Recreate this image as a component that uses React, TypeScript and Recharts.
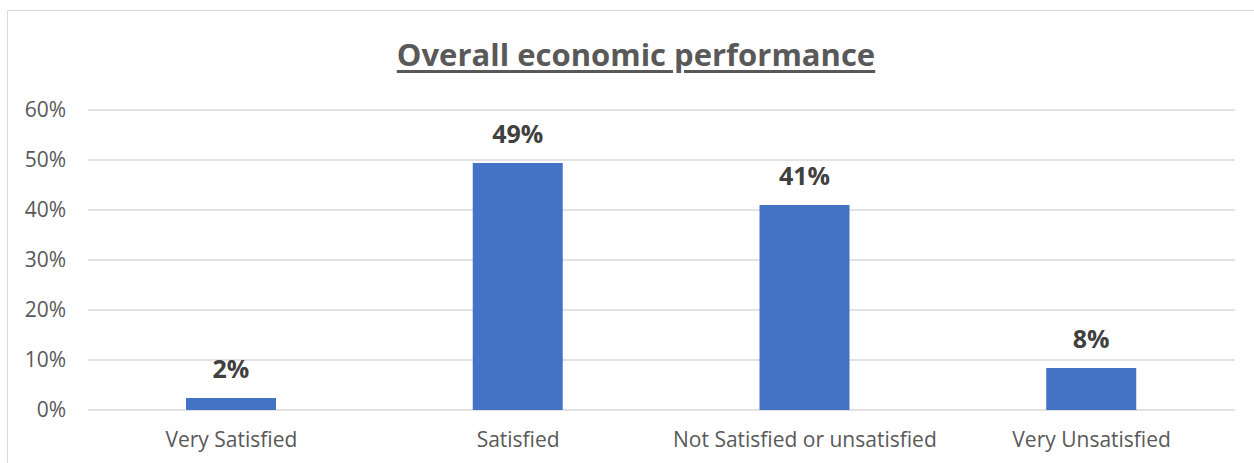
import { Bar, BarChart, CartesianGrid, LabelList, XAxis, YAxis } from "recharts";

const categories = [
  "Very Satisfied",
  "Satisfied",
  "Not Satisfied or unsatisfied",
  "Very Unsatisfied",
];
const shares = [2.4, 49.4, 41, 8.4];
const yTicks = [0, 10, 20, 30, 40, 50, 60];

const data = categories.map((name, i) => ({ name, value: shares[i] }));

const FONT = "'Open Sans', 'Liberation Sans', sans-serif";

export default function App() {
  return (
    <div
      style={{
        position: "fixed",
        left: 0,
        top: 0,
        width: 1254,
        height: 463,
        background: "#fff",
        overflow: "hidden",
        fontFamily: FONT,
      }}
    >
      <div
        style={{
          position: "absolute",
          left: 7,
          top: 10,
          width: 1300,
          height: 500,
          border: "1.5px solid #d9d9d9",
        }}
      />
      <div
        style={{
          position: "absolute",
          left: 0,
          top: 34,
          width: 1272,
          textAlign: "center",
          fontSize: 31,
          fontWeight: 700,
          color: "#595959",
          textDecoration: "underline",
          textUnderlineOffset: 4,
          lineHeight: "40px",
        }}
      >
        Overall economic performance
      </div>
      <div style={{ position: "absolute", left: 0, top: 0 }}>
        <BarChart
          width={1254}
          height={463}
          data={data}
          margin={{ top: 110, right: 19, left: 8, bottom: 0 }}
        >
          <CartesianGrid vertical={false} stroke="#d9d9d9" strokeWidth={1.5} />
          <XAxis
            dataKey="name"
            axisLine={false}
            tickLine={false}
            tickSize={0}
            tickMargin={22}
            height={53}
            interval={0}
            tick={{ fontSize: 21, fill: "#595959", fontFamily: FONT }}
          />
          <YAxis
            domain={[0, 60]}
            ticks={yTicks}
            width={80}
            axisLine={false}
            tickLine={false}
            tickSize={0}
            tickMargin={22}
            tickFormatter={(v: number) => `${v}%`}
            tick={{ fontSize: 21, fill: "#595959", fontFamily: FONT }}
          />
          <Bar dataKey="value" fill="#4472c4" barSize={90} isAnimationActive={false}>
            <LabelList
              dataKey="value"
              position="top"
              offset={20}
              formatter={(v: number) => `${Math.round(v)}%`}
              style={{ fontSize: 25, fontWeight: 700, fill: "#404040", fontFamily: FONT }}
            />
          </Bar>
        </BarChart>
      </div>
    </div>
  );
}
